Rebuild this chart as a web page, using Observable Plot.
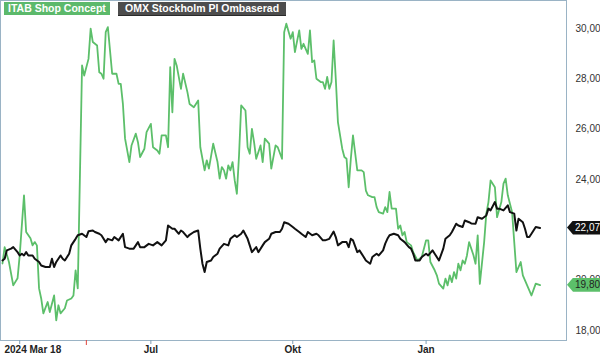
<!DOCTYPE html>
<html><head><meta charset="utf-8">
<script src="https://cdn.jsdelivr.net/npm/d3@7"></script>
<script src="https://cdn.jsdelivr.net/npm/@observablehq/plot@0.6"></script>
<style>
html,body{margin:0;padding:0;background:#fff;overflow:hidden;}
#wrap{position:relative;width:600px;height:355px;font-family:"Liberation Sans",Arial,sans-serif;overflow:hidden;}
#wrap svg{display:block;}
.leg{position:absolute;top:2px;height:13px;line-height:13px;color:#fff;font-weight:bold;font-size:10.5px;padding:0 4px;white-space:nowrap;}
.tag{position:absolute;left:567px;width:33px;height:14px;line-height:14px;font-size:10px;padding-left:8px;box-sizing:border-box;
  clip-path:polygon(0 50%, 6px 0, 100% 0, 100% 100%, 6px 100%);}
</style></head><body><div id="wrap"></div>
<script>
// x = trading day since 2024-03-18
const seriesNames = ["ITAB Shop Concept", "OMX Stockholm PI Ombaserad"];
const xTickDays = [8, 69, 135, 197];
const xTickLabels = ["2024 Mar 18", "Jul", "Okt", "Jan"];
const eventDays = [39];
const yTicks = [18, 20, 22, 24, 26, 28, 30];

const itabSeries = [[0,20.66],[1,21.31],[3,20.72],[5,19.79],[7,20.07],[8,20.98],[10,23.37],[11,21.91],[13,21.66],[14,21.38],[15,21.51],[16,21.38],[17,19.67],[18,19.27],[19,18.68],[21,19.13],[22,18.73],[24,19.39],[25,18.40],[26,19.0],[27,18.68],[29,18.88],[30,19.19],[32,19.27],[33,19.39],[34,20.39],[35,19.67],[37,28.53],[38,28.13],[40,28.79],[41,29.99],[42,29.46],[44,29.32],[45,28.26],[46,28.20],[47,28.0],[48,29.85],[49,30.05],[51,28.2],[53,28.2],[54,27.8],[55,27.8],[56,27.0],[57,25.62],[59,24.69],[60,25.35],[62,25.82],[63,25.48],[64,24.89],[66,25.22],[67,25.88],[69,26.21],[70,25.28],[72,25.15],[73,25.02],[74,25.75],[76,25.75],[77,25.28],[78,28.46],[79,26.67],[80,28.79],[81,28.53],[83,27.60],[84,28.2],[86,27.47],[87,27.0],[89,26.87],[91,27.14],[92,25.28],[94,24.36],[95,24.76],[96,24.43],[98,25.42],[100,24.69],[101,24.03],[102,24.49],[103,24.36],[104,24.03],[105,24.56],[106,24.36],[107,24.69],[108,23.96],[109,23.43],[110,24.95],[111,26.94],[113,26.74],[114,25.28],[115,25.02],[116,26.01],[117,25.48],[118,24.82],[120,25.35],[121,24.69],[122,25.62],[124,25.42],[125,24.43],[127,25.35],[128,25.28],[130,24.82],[131,29.85],[132,30.19],[134,29.59],[135,29.85],[136,29.06],[138,29.92],[139,29.19],[140,29.39],[142,28.99],[143,29.92],[144,28.66],[145,28.73],[146,28.0],[148,27.87],[149,27.87],[150,27.60],[151,28.07],[152,27.60],[153,27.87],[154,29.52],[155,28.0],[156,26.28],[158,25.22],[159,24.89],[160,24.82],[161,23.69],[162,24.82],[163,25.75],[165,24.36],[167,24.36],[168,24.29],[169,23.56],[170,23.37],[172,23.30],[173,23.30],[174,22.90],[175,22.70],[177,22.64],[178,22.90],[179,22.70],[180,23.50],[181,22.84],[183,22.84],[184,22.04],[185,22.17],[186,21.78],[187,21.91],[188,21.51],[190,21.38],[191,21.11],[193,20.78],[194,20.85],[195,20.92],[197,21.58],[198,21.58],[199,20.72],[201,20.39],[202,20.19],[203,19.86],[205,19.66],[206,20.06],[207,19.79],[208,20.19],[209,19.92],[210,20.32],[211,20.06],[212,20.65],[213,20.39],[214,20.78],[215,20.65],[216,20.98],[217,21.51],[219,21.0],[220,20.65],[221,21.78],[222,19.85],[224,21.51],[225,22.64],[226,23.10],[227,23.96],[229,23.69],[230,22.50],[232,23.10],[233,23.83],[234,24.03],[235,23.37],[237,22.70],[239,20.32],[241,20.72],[242,20.19],[245,19.59],[246,19.39],[248,19.86],[250,19.80]];

const omxSeries = [[0,20.78],[1,20.85],[2,21.18],[4,21.25],[5,21.31],[7,21.11],[8,20.98],[9,21.05],[10,20.98],[11,21.11],[12,20.98],[14,20.98],[15,20.85],[17,20.72],[18,20.58],[20,20.52],[22,20.52],[23,20.85],[24,20.52],[25,20.72],[27,20.98],[28,20.85],[29,20.78],[31,21.05],[32,21.38],[34,21.64],[35,21.78],[37,21.84],[39,21.71],[40,21.94],[42,21.97],[43,21.91],[45,21.84],[46,21.78],[48,21.51],[49,21.64],[51,21.58],[52,21.71],[54,21.58],[56,21.84],[57,21.31],[59,21.25],[61,21.25],[63,21.51],[64,21.31],[66,21.31],[68,21.44],[70,21.38],[72,21.51],[74,21.38],[76,21.58],[77,22.17],[79,22.04],[80,22.04],[82,21.84],[83,21.97],[84,21.91],[86,21.71],[87,21.80],[89,21.91],[91,21.97],[92,21.25],[93,20.65],[94,20.32],[95,20.72],[97,20.78],[98,20.92],[100,21.05],[101,21.25],[103,21.44],[105,21.38],[106,21.64],[108,21.78],[109,21.71],[111,21.84],[112,21.97],[114,21.64],[116,21.11],[118,21.31],[119,21.11],[121,21.38],[122,21.51],[124,21.64],[125,21.84],[127,21.91],[129,21.91],[130,22.04],[131,22.30],[133,22.24],[135,22.11],[136,22.04],[138,21.91],[139,21.84],[141,21.71],[142,21.91],[144,21.78],[146,21.84],[147,21.78],[149,21.58],[150,21.58],[152,21.64],[154,21.93],[155,21.71],[156,21.38],[158,21.51],[160,21.51],[161,21.31],[162,21.64],[163,21.58],[165,21.11],[166,21.18],[168,20.92],[169,20.78],[171,20.65],[172,20.92],[174,21.05],[175,20.98],[177,21.18],[178,21.45],[179,21.64],[180,21.78],[182,21.84],[184,21.78],[185,21.64],[187,21.51],[189,21.31],[190,21.25],[191,21.05],[192,20.78],[194,20.78],[195,20.92],[197,21.05],[198,20.98],[200,21.18],[201,21.05],[203,20.78],[205,21.25],[206,21.64],[208,21.78],[209,21.91],[211,22.24],[212,22.17],[214,22.11],[215,22.37],[217,22.30],[218,22.25],[220,22.24],[221,22.50],[223,22.44],[225,22.57],[226,22.84],[227,22.77],[229,23.10],[230,22.84],[231,22.84],[233,22.77],[235,22.97],[236,22.70],[238,22.64],[239,21.97],[240,22.44],[242,22.30],[243,22.04],[244,21.71],[245,21.71],[246,21.84],[248,22.11],[250,22.07]];

const colors = ["#5cbf6a", "#111111"];
const fmt = d => d.toFixed(2).replace(".", ",");
const xDomain = [-0.93, 262.3];
const font = "Liberation Sans, Arial, sans-serif";

const firstTick = [{d: xTickDays[0], t: xTickLabels[0]}];
const otherTicks = xTickDays.slice(1).map((d, i) => ({d, t: xTickLabels[i + 1]}));

const chart = Plot.plot({
  width: 600, height: 355,
  marginTop: 0, marginRight: 34, marginBottom: 15, marginLeft: 0,
  style: {fontFamily: font, background: "#fff"},
  x: {type: "linear", domain: xDomain},
  y: {domain: [17.6, 31.11]},
  marks: [
    Plot.frame({stroke: "#9ab3c5"}),
    Plot.axisY({anchor: "right", ticks: yTicks, tickSize: 0, tickPadding: 9, tickFormat: fmt, fontSize: 10, fill: "#333", label: null}),
    Plot.axisX({ticks: xTickDays, tickSize: 4, stroke: "#7f9fb5", tickFormat: () => "", label: null}),
    Plot.axisX({ticks: eventDays, tickSize: 5, stroke: "#e0443c", tickFormat: () => "", label: null}),
    Plot.text(firstTick, {x: () => xDomain[0], text: "t", frameAnchor: "bottom", textAnchor: "start", lineAnchor: "middle", dx: 4, dy: 9.5, fontSize: 10, fontWeight: "bold", fill: "#222"}),
    Plot.text(otherTicks, {x: "d", text: "t", frameAnchor: "bottom", textAnchor: "middle", lineAnchor: "middle", dy: 9.5, fontSize: 10, fontWeight: "bold", fill: "#222"}),
    Plot.line(itabSeries, {x: d => d[0], y: d => d[1], stroke: colors[0], strokeWidth: 1.8}),
    Plot.line(omxSeries, {x: d => d[0], y: d => d[1], stroke: colors[1], strokeWidth: 2})
  ]
});

const wrap = document.getElementById("wrap");
wrap.appendChild(chart);

// last-value tags on the right axis, placed with the chart's own y scale
const ys = chart.scale("y");
const tags = [
  {v: omxSeries[omxSeries.length - 1][1], bg: colors[1], fg: "#fff"},
  {v: itabSeries[itabSeries.length - 1][1], bg: colors[0], fg: "#222"}
];
tags.forEach(t => {
  const el = document.createElement("div");
  el.className = "tag";
  el.style.top = (ys.apply(t.v) - 7) + "px";
  el.style.background = t.bg;
  el.style.color = t.fg;
  el.textContent = fmt(t.v);
  wrap.appendChild(el);
});

const l1 = document.createElement("div");
l1.className = "leg"; l1.style.left = "4px"; l1.style.background = "#5cb96b";
l1.textContent = seriesNames[0];
const l2 = document.createElement("div");
l2.className = "leg"; l2.style.left = "118px"; l2.style.background = "#4d4d4d";
l2.style.padding = "0 7px"; l2.style.borderBottom = "1px solid #2a2a2a";
l2.textContent = seriesNames[1];
wrap.appendChild(l1); wrap.appendChild(l2);
</script></body></html>
